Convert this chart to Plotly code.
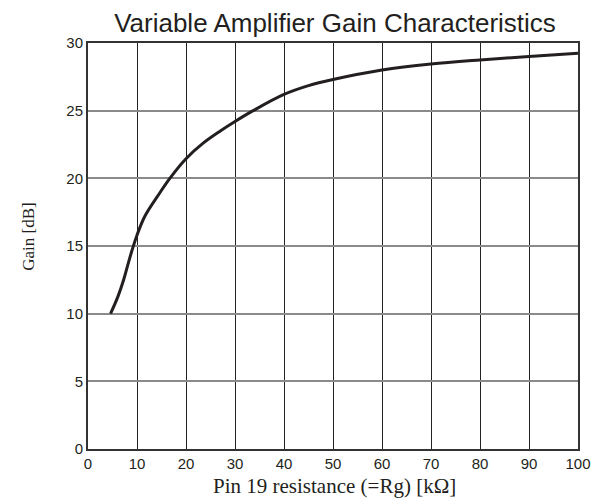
import plotly.graph_objects as go

resistance_kohm = [4.6, 6.1, 7.35, 8.2, 9.0, 10.0, 11.6, 14.6, 16.7, 20.0, 23.5, 27.0, 30.0, 33.7, 40.0, 45.0, 50.0, 60.0, 70.0, 80.0, 90.0, 100.0]
gain_db = [10.0, 11.26, 12.6, 13.7, 14.7, 15.8, 17.2, 18.9, 20.0, 21.45, 22.6, 23.5, 24.2, 25.0, 26.2, 26.85, 27.3, 28.0, 28.45, 28.75, 29.0, 29.25]

x_ticks = [0, 10, 20, 30, 40, 50, 60, 70, 80, 90, 100]
y_ticks = [0, 5, 10, 15, 20, 25, 30]

ink = "#231f20"
sans = "Liberation Sans, Arial, sans-serif"
serif = "Liberation Serif, Times New Roman, serif"

fig = go.Figure()
fig.add_trace(go.Scatter(
    x=resistance_kohm, y=gain_db, mode="lines",
    line=dict(color=ink, width=3, shape="spline", smoothing=1.0),
    showlegend=False, hoverinfo="skip",
))

fig.update_layout(
    width=594, height=492,
    margin=dict(l=80, r=24, t=35, b=51),
    paper_bgcolor="white", plot_bgcolor="white",
    title=dict(
        text="Variable Amplifier Gain Characteristics",
        x=0.5505, xanchor="center", xref="container",
        y=0.9705, yanchor="middle", yref="container",
        font=dict(family=sans, size=26, color=ink),
    ),
    xaxis=dict(
        range=[0, 100], tickvals=x_ticks, ticks="", showgrid=True,
        gridcolor="#222222", gridwidth=1, zeroline=False,
        showline=True, linecolor="#333333", linewidth=2, mirror=True,
        tickfont=dict(family=sans, size=15, color=ink),
    ),
    yaxis=dict(
        range=[0, 30], tickvals=y_ticks, ticks="", showgrid=True,
        gridcolor="#8a8a8a", gridwidth=2, zeroline=False,
        showline=True, linecolor="#333333", linewidth=2, mirror=True,
        tickfont=dict(family=sans, size=15, color=ink),
    ),
    annotations=[
        dict(text="Pin 19 resistance (=Rg) [kΩ]", xref="paper", yref="paper",
             x=0.504, y=-0.091, xanchor="center", yanchor="middle", showarrow=False,
             font=dict(family=serif, size=21, color=ink)),
        dict(text="Gain [dB]", xref="paper", yref="paper", textangle=-90,
             x=-0.123, y=0.522, xanchor="center", yanchor="middle", showarrow=False,
             font=dict(family=serif, size=17, color=ink)),
    ],
)

fig.write_html("out.html")
